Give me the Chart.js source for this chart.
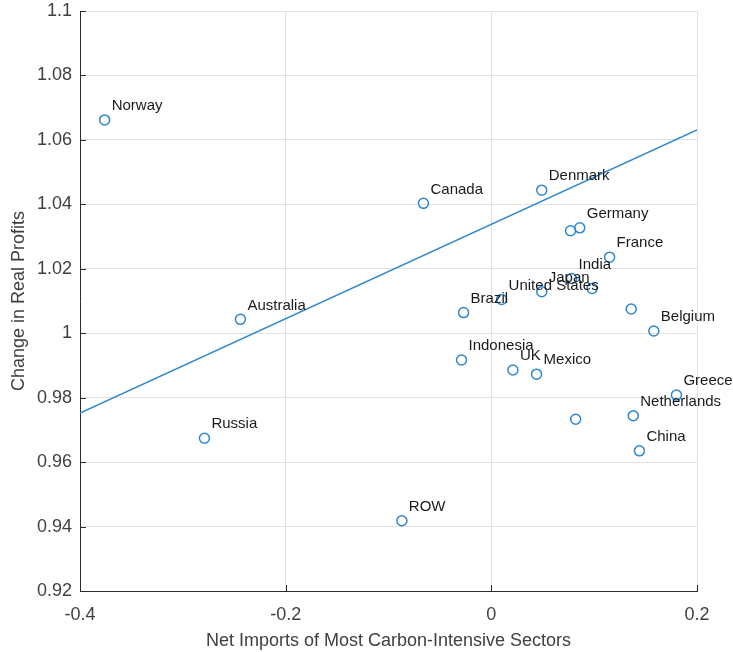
<!DOCTYPE html>
<html lang="en">
<head>
  <meta charset="UTF-8">
  <title>Net Imports vs Change in Real Profits</title>
  <style>
    html, body {
      margin: 0;
      padding: 0;
      background: #fff;
    }
    canvas {
      display: block;
    }
  </style>
  <script src="https://cdn.jsdelivr.net/npm/chart.js"></script>
</head>
<body>
  <canvas id="scatter" width="733" height="652"></canvas>

  <script>
    // countries (empty name = point shown without a label)
    const countries = ['Norway', 'Australia', 'Russia', 'ROW', 'Canada', 'Indonesia', 'Brazil',
      'United States', 'UK', 'Mexico', 'Japan', 'Denmark', '', 'Germany', 'India', '', '',
      'France', '', 'Belgium', 'Netherlands', 'China', 'Greece'];
    const netImports = [-0.376, -0.244, -0.279, -0.087, -0.066, -0.029, -0.027,
      0.010, 0.021, 0.044, 0.049, 0.049, 0.077, 0.086, 0.078, 0.098, 0.082,
      0.115, 0.136, 0.158, 0.138, 0.144, 0.180];
    const profitChange = [1.0662, 1.0043, 0.9674, 0.9418, 1.0403, 0.9917, 1.0064,
      1.0105, 0.9886, 0.9873, 1.0129, 1.0444, 1.0318, 1.0327, 1.0170, 1.0139, 0.9733,
      1.0236, 1.0075, 1.0007, 0.9744, 0.9635, 0.9808];

    // fitted line, end points
    const fitX = [-0.4, 0.2];
    const fitY = [0.9752, 1.0631];

    const xTicks = [-0.4, -0.2, 0, 0.2];
    const yTicks = [0.92, 0.94, 0.96, 0.98, 1, 1.02, 1.04, 1.06, 1.08, 1.1];

    const blue = '#2f87cf';
    const axisColor = '#2b2b2b';
    const textColor = '#404040';
    const fontFamily = '"Liberation Sans", Arial, sans-serif';

    const points = netImports.map((x, i) => ({ x: x, y: profitChange[i] }));
    const fitLine = fitX.map((x, i) => ({ x: x, y: fitY[i] }));

    // country names next to the circles
    const pointLabels = {
      id: 'pointLabels',
      afterDatasetsDraw(chart) {
        const ctx = chart.ctx;
        const meta = chart.getDatasetMeta(1);
        ctx.save();
        ctx.font = '15px ' + fontFamily;
        ctx.fillStyle = '#1a1a1a';
        ctx.textBaseline = 'middle';
        ctx.textAlign = 'left';
        meta.data.forEach((pt, i) => {
          if (countries[i]) ctx.fillText(countries[i], pt.x + 7, pt.y - 14);
        });
        ctx.restore();
      }
    };

    // small tick marks pointing into the plot
    const innerTicks = {
      id: 'innerTicks',
      afterDraw(chart) {
        const ctx = chart.ctx;
        const xs = chart.scales.x;
        const ys = chart.scales.y;
        const area = chart.chartArea;
        ctx.save();
        ctx.strokeStyle = axisColor;
        ctx.lineWidth = 1;
        ctx.beginPath();
        yTicks.forEach(v => {
          const py = Math.round(ys.getPixelForValue(v)) + 0.5;
          ctx.moveTo(area.left, py);
          ctx.lineTo(area.left + 6, py);
        });
        xTicks.forEach(v => {
          const px = Math.round(xs.getPixelForValue(v)) + 0.5;
          ctx.moveTo(px, area.bottom);
          ctx.lineTo(px, area.bottom - 6);
        });
        ctx.stroke();
        ctx.restore();
      }
    };

    const ctx = document.getElementById('scatter').getContext('2d');
    new Chart(ctx, {
      type: 'scatter',
      data: {
        datasets: [
          {
            type: 'line',
            data: fitLine,
            borderColor: blue,
            borderWidth: 1.5,
            pointRadius: 0,
            fill: false
          },
          {
            data: points,
            borderColor: blue,
            backgroundColor: 'rgba(0,0,0,0)',
            borderWidth: 1.5,
            pointRadius: 5,
            pointHoverRadius: 5
          }
        ]
      },
      options: {
        responsive: false,
        animation: false,
        layout: {
          padding: { top: 11, right: 36, left: 0, bottom: 0 }
        },
        plugins: {
          legend: { display: false },
          tooltip: { enabled: false }
        },
        scales: {
          x: {
            type: 'linear',
            min: -0.4,
            max: 0.2,
            afterBuildTicks: scale => { scale.ticks = xTicks.map(v => ({ value: v })); },
            afterFit: scale => { scale.height = 61; },
            grid: { color: '#e2e2e2', drawTicks: false },
            border: { color: axisColor, width: 1 },
            ticks: {
              padding: 13,
              color: textColor,
              font: { family: fontFamily, size: 18 },
              maxRotation: 0,
              callback: v => String(parseFloat(v.toFixed(2)))
            },
            title: {
              display: true,
              text: 'Net Imports of Most Carbon-Intensive Sectors',
              color: textColor,
              font: { family: fontFamily, size: 18 },
              padding: { top: 1, bottom: 0 }
            }
          },
          y: {
            type: 'linear',
            min: 0.92,
            max: 1.1,
            afterBuildTicks: scale => { scale.ticks = yTicks.map(v => ({ value: v })); },
            afterFit: scale => {
              scale.width = 80;
              scale.paddingTop = 0;
              scale.paddingBottom = 0;
            },
            grid: { color: '#e2e2e2', drawTicks: false },
            border: { color: axisColor, width: 1 },
            ticks: {
              padding: 8,
              color: textColor,
              font: { family: fontFamily, size: 18 },
              callback: v => String(parseFloat(v.toFixed(2)))
            },
            title: {
              display: true,
              text: 'Change in Real Profits',
              color: textColor,
              font: { family: fontFamily, size: 18 },
              padding: { top: 8, bottom: 0 }
            }
          }
        }
      },
      plugins: [pointLabels, innerTicks]
    });
  </script>
</body>
</html>
